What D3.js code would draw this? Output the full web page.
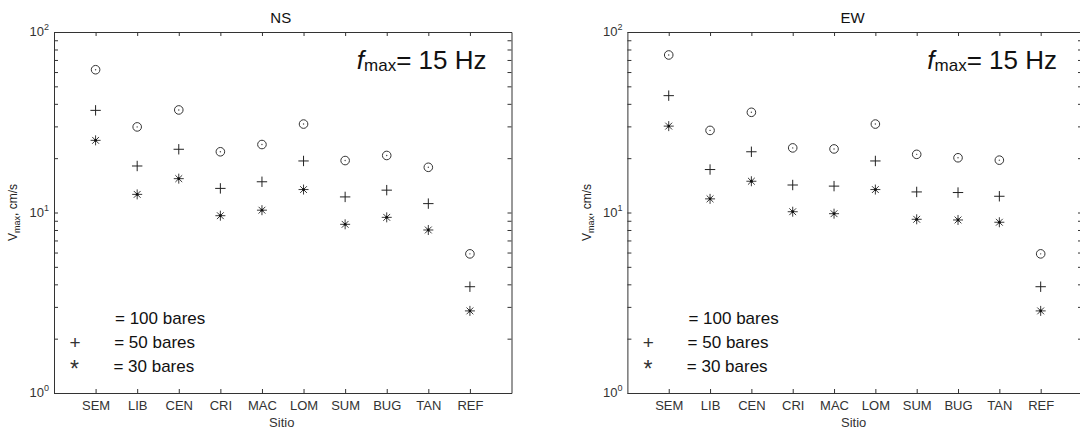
<!DOCTYPE html>
<html>
<head>
<meta charset="utf-8">
<script src="https://cdn.jsdelivr.net/npm/d3@7"></script>
<style>
  html, body { margin: 0; padding: 0; background: #fff; }
  svg { display: block; font-family: "Liberation Sans", Arial, sans-serif; }
</style>
</head>
<body>
<svg id="chart" width="1080" height="430"></svg>
<script>
// ---- data ----
const categories = ["SEM", "LIB", "CEN", "CRI", "MAC", "LOM", "SUM", "BUG", "TAN", "REF"];
const ns100 = [61.8, 29.8, 37.0, 21.7, 23.8, 30.9, 19.4, 20.7, 17.8, 5.9];
const ns50  = [36.8, 18.1, 22.4, 13.6, 14.8, 19.3, 12.2, 13.3, 11.2, 3.88];
const ns30  = [25.1, 12.6, 15.4, 9.6, 10.3, 13.4, 8.6, 9.4, 8.0, 2.85];
const ew100 = [74.6, 28.5, 35.9, 22.8, 22.5, 30.9, 21.0, 20.1, 19.5, 5.9];
const ew50  = [44.4, 17.3, 21.7, 14.2, 14.0, 19.3, 13.0, 12.9, 12.3, 3.88];
const ew30  = [30.1, 11.9, 14.9, 10.1, 9.85, 13.4, 9.17, 9.09, 8.83, 2.85];
const panelTitles = ["NS", "EW"];
const yTickExponents = [0, 1, 2];
const legendLabels = ["= 100 bares", "= 50 bares", "= 30 bares"];
const xLabel = "Sitio";
const fmaxText = "= 15 Hz";

// ---- layout ----
const svg = d3.select("#chart");
const plotTop = 32, plotBottom = 393;
const panels = [
  { title: panelTitles[0], left: 54, right: 511.5, s100: ns100, s50: ns50, s30: ns30, ylabX: 13 },
  { title: panelTitles[1], left: 627.4, right: 1082, s100: ew100, s50: ew50, s30: ew30, ylabX: 587 }
];

const minorVals = [];
for (let d = 1; d <= 10; d *= 10) for (let k = 1; k <= 9; k++) minorVals.push(k * d);
minorVals.push(100);

const axisColor = "#333";

panels.forEach(p => {
  const x = d3.scaleLinear().domain([0, categories.length + 1]).range([p.left, p.right]);
  const y = d3.scaleLog().domain([1, 100]).range([plotBottom, plotTop]);
  const g = svg.append("g");
  const idx = d3.range(1, categories.length + 1);

  // axes
  const ax = [
    g.append("g").attr("transform", `translate(0,${plotBottom})`)
      .call(d3.axisBottom(x).tickValues(idx).tickFormat(i => categories[i - 1]).tickSizeInner(-4).tickSizeOuter(0).tickPadding(8)),
    g.append("g").attr("transform", `translate(0,${plotTop})`)
      .call(d3.axisTop(x).tickValues(idx).tickFormat("").tickSizeInner(-4).tickSizeOuter(0)),
    g.append("g").attr("transform", `translate(${p.left},0)`)
      .call(d3.axisLeft(y).tickValues(minorVals).tickFormat("").tickSizeInner(-4).tickSizeOuter(0)),
    g.append("g").attr("transform", `translate(${p.right},0)`)
      .call(d3.axisRight(y).tickValues(minorVals).tickFormat("").tickSizeInner(-4).tickSizeOuter(0))
  ];
  ax.forEach(a => {
    a.selectAll("path.domain").attr("stroke", axisColor).attr("stroke-width", 1);
    a.selectAll(".tick line").attr("stroke", axisColor).attr("stroke-width", 1);
    a.selectAll(".tick text").attr("fill", "#333").style("font-size", "13px")
      .style("font-family", "'Liberation Sans', Arial, sans-serif");
  });

  // y tick labels 10^k
  yTickExponents.forEach(e => {
    const t = g.append("text")
      .attr("x", p.left - 5).attr("y", y(Math.pow(10, e)) + 4)
      .attr("text-anchor", "end").attr("fill", "#333").style("font-size", "13px");
    t.append("tspan").text("10");
    t.append("tspan").attr("dy", -6).style("font-size", "9px").text(String(e));
  });

  // title
  g.append("text").attr("x", (p.left + p.right) / 2 - 2).attr("y", 22.5)
    .attr("text-anchor", "middle").attr("fill", "#111").style("font-size", "15px").text(p.title);

  // x label
  g.append("text").attr("x", (p.left + p.right) / 2 - 1).attr("y", 427)
    .attr("text-anchor", "middle").attr("fill", "#333").style("font-size", "13px").text(xLabel);

  // y label
  const yl = g.append("text")
    .attr("transform", `translate(${p.ylabX + 4},${(plotTop + plotBottom) / 2}) rotate(-90)`)
    .attr("text-anchor", "middle").attr("fill", "#222").style("font-size", "12px");
  yl.append("tspan").text("V");
  yl.append("tspan").attr("dy", 3).style("font-size", "9px").text("max");
  yl.append("tspan").attr("dy", -3).text(", cm/s");

  // fmax annotation
  const fm = g.append("text").attr("x", p.right - 25).attr("y", 68.5)
    .attr("text-anchor", "end").attr("fill", "#111").style("font-size", "26px");
  fm.append("tspan").style("font-style", "italic").text("f");
  fm.append("tspan").attr("dy", 2).style("font-size", "17px").text("max");
  fm.append("tspan").attr("dy", -2).text(fmaxText);

  // markers
  const circ = g.append("g").selectAll("g").data(p.s100).join("g")
    .attr("transform", (d, i) => `translate(${x(i + 1)},${y(d)})`);
  circ.append("circle").attr("r", 4.3).attr("fill", "none").attr("stroke", "#333").attr("stroke-width", 1);
  circ.append("circle").attr("r", 0.7).attr("fill", "#444");

  g.append("g").selectAll("path").data(p.s50).join("path")
    .attr("transform", (d, i) => `translate(${x(i + 1)},${y(d)})`)
    .attr("d", "M-5.2,0H5.2M0,-5.2V5.2")
    .attr("stroke", "#222").attr("stroke-width", 1).attr("fill", "none");

  const star = g.append("g").selectAll("g").data(p.s30).join("g")
    .attr("transform", (d, i) => `translate(${x(i + 1)},${y(d)})`);
  star.append("path")
    .attr("d", "M-5,0H5M0,-5V5M-3.4,-3.4L3.4,3.4M-3.4,3.4L3.4,-3.4")
    .attr("stroke", "#222").attr("stroke-width", 0.9).attr("fill", "none");
  star.append("circle").attr("r", 1.4).attr("fill", "#111");

  // legend
  const lx = p.left + 61;
  const ly = [324, 348, 372];
  legendLabels.forEach((lab, i) => {
    g.append("text").attr("x", lx - i * 0.8).attr("y", ly[i])
      .attr("fill", "#111").style("font-size", "17px").text(lab);
  });
  g.append("text").attr("x", p.left + 21).attr("y", 348.5).attr("text-anchor", "middle")
    .attr("fill", "#333").style("font-size", "19px").style("font-weight", "300").text("+");
  g.append("text").attr("x", p.left + 20.5).attr("y", 376.5).attr("text-anchor", "middle")
    .attr("fill", "#333").style("font-size", "23px").text("*");
});
</script>
</body>
</html>
